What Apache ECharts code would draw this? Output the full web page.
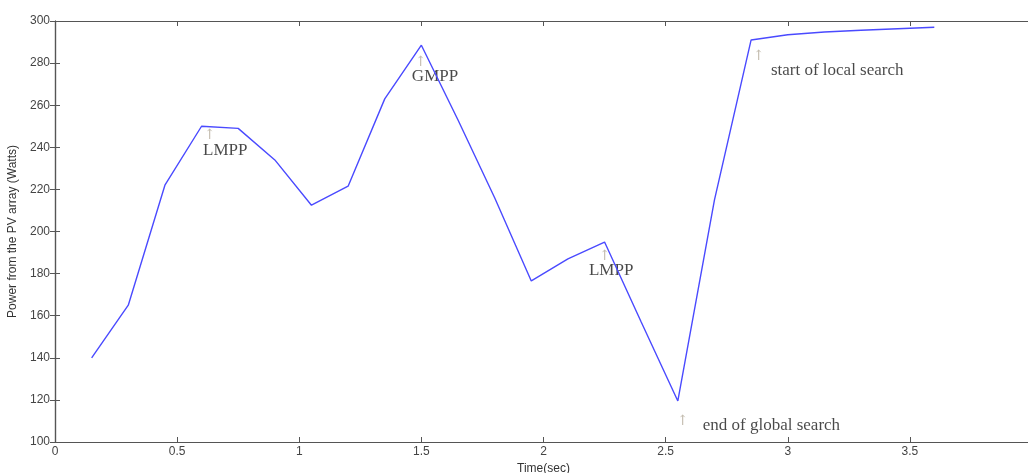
<!DOCTYPE html>
<html lang="en">
<head>
    <meta charset="utf-8">
    <title>PV array power vs time</title>
    <script src="https://cdn.jsdelivr.net/npm/echarts@6/dist/echarts.min.js"></script>
    <style>
        html, body { margin: 0; padding: 0; background: #fff; }
        #main { width: 1028px; height: 473px; }
    </style>
</head>
<body>
<div id="main"></div>
<script type="text/javascript">
    // time (sec) and power (W)
    var timeSec = [0.15, 0.3, 0.45, 0.6, 0.75, 0.9, 1.05, 1.2, 1.35, 1.5, 1.65, 1.8, 1.95,
                   2.1, 2.25, 2.4, 2.55, 2.7, 2.85, 3.0, 3.15, 3.3, 3.45, 3.6];
    var powerW = [140, 165, 222, 250, 249, 234, 212.5, 221.5, 263, 288.5, 253, 216, 176.5,
                  187, 195, 157, 119.5, 215, 291, 293.5, 294.8, 295.6, 296.3, 297];

    // annotations (data coords)
    var noteText = ['LMPP', 'GMPP', 'LMPP', 'end of global search', 'start of local search'];
    var noteX = [0.606, 1.461, 2.186, 2.652, 2.931];
    var noteY = [238.6, 273.7, 181.6, 108, 276.6];
    var arrowX = [0.634, 1.498, 2.251, 2.571, 2.882];
    var arrowY = [245.7, 280.4, 188.2, 109.8, 283.2];

    var xTicks = ['0', '0.5', '1', '1.5', '2', '2.5', '3', '3.5', ''];

    var axisCol = '#555';
    var labelFont = 'Liberation Sans, Arial, sans-serif';

    var lineData = timeSec.map(function (t, i) { return [t, powerW[i]]; });
    var noteData = noteText.map(function (s, i) { return { value: [noteX[i], noteY[i]], name: s }; });
    var arrowData = arrowX.map(function (x, i) { return [x, arrowY[i]]; });

    var myChart = echarts.init(document.getElementById('main'));
    var option = {
        animation: false,
        backgroundColor: '#fff',
        grid: { left: 55, top: 21, width: 977, height: 421, outerBoundsMode: 'none', containLabel: false },
        xAxis: [
            {
                type: 'value', min: 0, max: 4, interval: 0.5,
                name: 'Time(sec)', nameLocation: 'middle', nameGap: 19,
                nameTextStyle: { color: '#333', fontSize: 12, fontFamily: labelFont },
                axisLine: { lineStyle: { color: axisCol, width: 1.2 } },
                axisTick: { inside: true, length: 5, lineStyle: { color: axisCol } },
                axisLabel: {
                    color: '#444', fontSize: 12, fontFamily: labelFont, margin: 4,
                    formatter: function (v) { return xTicks[Math.round(v / 0.5)]; }
                },
                splitLine: { show: false }
            },
            {
                type: 'value', min: 0, max: 4, interval: 0.5, position: 'top',
                axisLine: { lineStyle: { color: axisCol, width: 1.2 } },
                axisTick: { inside: true, length: 5, lineStyle: { color: axisCol } },
                axisLabel: { show: false },
                splitLine: { show: false }
            }
        ],
        yAxis: [
            {
                type: 'value', min: 100, max: 300, interval: 20,
                name: 'Power from the PV array (Watts)', nameLocation: 'middle', nameGap: 34,
                nameTextStyle: { color: '#333', fontSize: 12, fontFamily: labelFont },
                axisLine: { show: true, lineStyle: { color: axisCol, width: 1.2 } },
                axisTick: { show: true, inside: true, length: 5, lineStyle: { color: axisCol } },
                axisLabel: { color: '#444', fontSize: 12, fontFamily: labelFont, margin: 5 },
                splitLine: { show: false }
            },
            {
                type: 'value', min: 100, max: 300, interval: 20, position: 'right',
                axisLine: { show: true, lineStyle: { color: axisCol, width: 1.2 } },
                axisTick: { show: true, inside: true, length: 5, lineStyle: { color: axisCol } },
                axisLabel: { show: false },
                splitLine: { show: false }
            }
        ],
        series: [
            {
                name: 'power',
                type: 'line',
                data: lineData,
                symbol: 'none',
                lineStyle: { color: '#4a4aff', width: 1.4 }
            },
            {
                name: 'notes',
                type: 'scatter',
                data: noteData,
                symbolSize: 0,
                label: {
                    show: true, position: 'right', distance: 0,
                    formatter: '{b}', color: '#1a1a1a', fontSize: 17,
                    fontFamily: 'Liberation Serif, Times New Roman, serif'
                }
            },
            {
                name: 'arrows',
                type: 'scatter',
                data: arrowData,
                symbolSize: 0,
                label: {
                    show: true, position: 'inside',
                    formatter: '\u2191', color: '#b5ad9c', fontSize: 14,
                    fontFamily: 'DejaVu Serif, serif'
                }
            }
        ]
    };
    myChart.setOption(option);
</script>
</body>
</html>
